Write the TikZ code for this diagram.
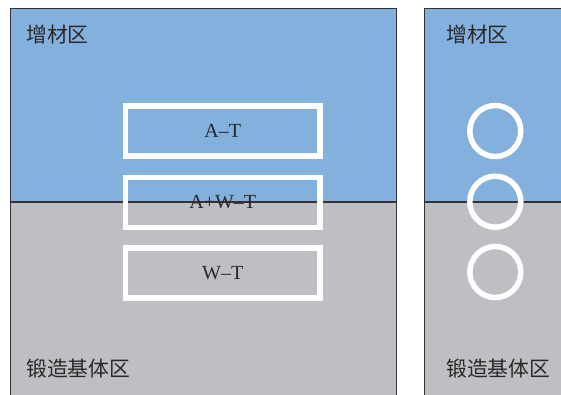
\documentclass[tikz,border=0pt]{standalone}
\usepackage{fontspec}
\setmainfont{Liberation Serif}
\newfontfamily\cjk{Noto Sans CJK SC}
\definecolor{zoneblue}{RGB}{132,176,222}
\definecolor{zonegray}{RGB}{190,191,195}
\definecolor{edgegray}{RGB}{50,50,55}
\definecolor{txtgray}{RGB}{40,40,40}
\begin{document}
\begin{tikzpicture}[x=1pt,y=-1pt,
  zonelabel/.style={anchor=west,inner sep=0pt,text=txtgray,font=\cjk\fontsize{20.8}{22}\selectfont},
  sample/.style={draw=white,line width=5.5pt,minimum width=194.5pt,minimum height=50pt,inner sep=0pt,text=txtgray,font=\fontsize{20}{22}\selectfont},
  ring/.style={draw=white,line width=5.5pt,circle,minimum size=51pt,inner sep=0pt}]
\useasboundingbox (0,0) rectangle (561,395);
\begin{scope}
\clip (0,0) rectangle (561,395);
% left panel
\fill[zoneblue] (10,8.5) rectangle (396,202);
\fill[zonegray] (10,202) rectangle (396,400);
\draw[edgegray,line width=0.9pt] (10,400) -- (10,8.5) -- (396,8.5) -- (396,400);
\draw[edgegray,line width=1.2pt] (10,202) -- (396,202);
% right panel
\fill[zoneblue] (424,8.5) rectangle (570,202);
\fill[zonegray] (424,202) rectangle (570,400);
\draw[edgegray,line width=0.9pt] (424,400) -- (424,8.5) -- (570,8.5);
\draw[edgegray,line width=1.2pt] (424,202) -- (570,202);
\end{scope}
% labels
\node[zonelabel] (l1) at (26,35) {增材区};
\node[zonelabel] (l2) at (26,369) {锻造基体区};
\node[zonelabel] (r1) at (446,35) {增材区};
\node[zonelabel] (r2) at (446,369) {锻造基体区};
% samples
\node[sample] (at) at (222.75,131) {A–T};
\node[sample] (awt) at (222.75,202.5) {A+W–T};
\node[sample] (wt) at (222.75,272.75) {W–T};
% rings
\node[ring] (c1) at (495.3,131) {};
\node[ring] (c2) at (495.3,201.7) {};
\node[ring] (c3) at (495.3,272) {};
\end{tikzpicture}
\end{document}
